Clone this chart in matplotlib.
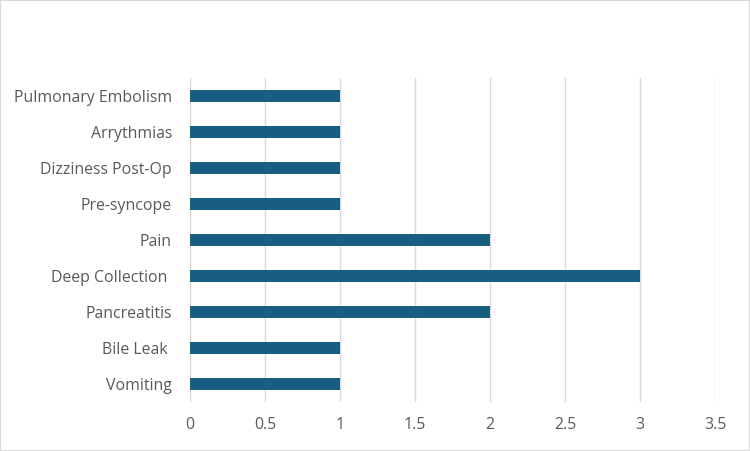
import matplotlib
matplotlib.use('Agg')
import matplotlib.pyplot as plt
from matplotlib.patches import Rectangle

# categories listed bottom to top, as drawn
categories = ['Vomiting', 'Bile Leak ', 'Pancreatitis', 'Deep Collection ', 'Pain',
              'Pre-syncope', 'Dizziness Post-Op', 'Arrythmias', 'Pulmonary Embolism']
counts = [1, 1, 2, 3, 2, 1, 1, 1, 1]
xticks = [0, 0.5, 1, 1.5, 2, 2.5, 3, 3.5]
xtick_labels = ['0', '0.5', '1', '1.5', '2', '2.5', '3', '3.5']

BAR = '#175E80'
TEXT = '#595959'
GRID = '#d9d9d9'

plt.rcParams['font.family'] = ['Open Sans', 'DejaVu Sans']

fig = plt.figure(figsize=(7.5, 4.51), dpi=100)
fig.patches.append(Rectangle((0, 0), 1, 1, transform=fig.transFigure,
                             fill=False, edgecolor=GRID, lw=1.5))
ax = fig.add_axes([0.2533, 0.1086, 0.70, 0.7184])

ax.barh(range(len(categories)), counts, height=0.35, color=BAR, zorder=3)
ax.set_ylim(-0.5, len(categories) - 0.5)
ax.set_xlim(0, 3.5)
ax.set_xticks(xticks)
ax.set_xticklabels(xtick_labels)
ax.set_yticks(range(len(categories)))
ax.set_yticklabels(categories)
ax.grid(axis='x', color=GRID, lw=1, zorder=0)
for s in ax.spines.values():
    s.set_visible(False)
ax.tick_params(axis='both', length=0, colors=TEXT, labelsize=11.4)
ax.tick_params(axis='x', pad=11)
ax.tick_params(axis='y', pad=13)

fig.savefig('out.png', dpi=100)
